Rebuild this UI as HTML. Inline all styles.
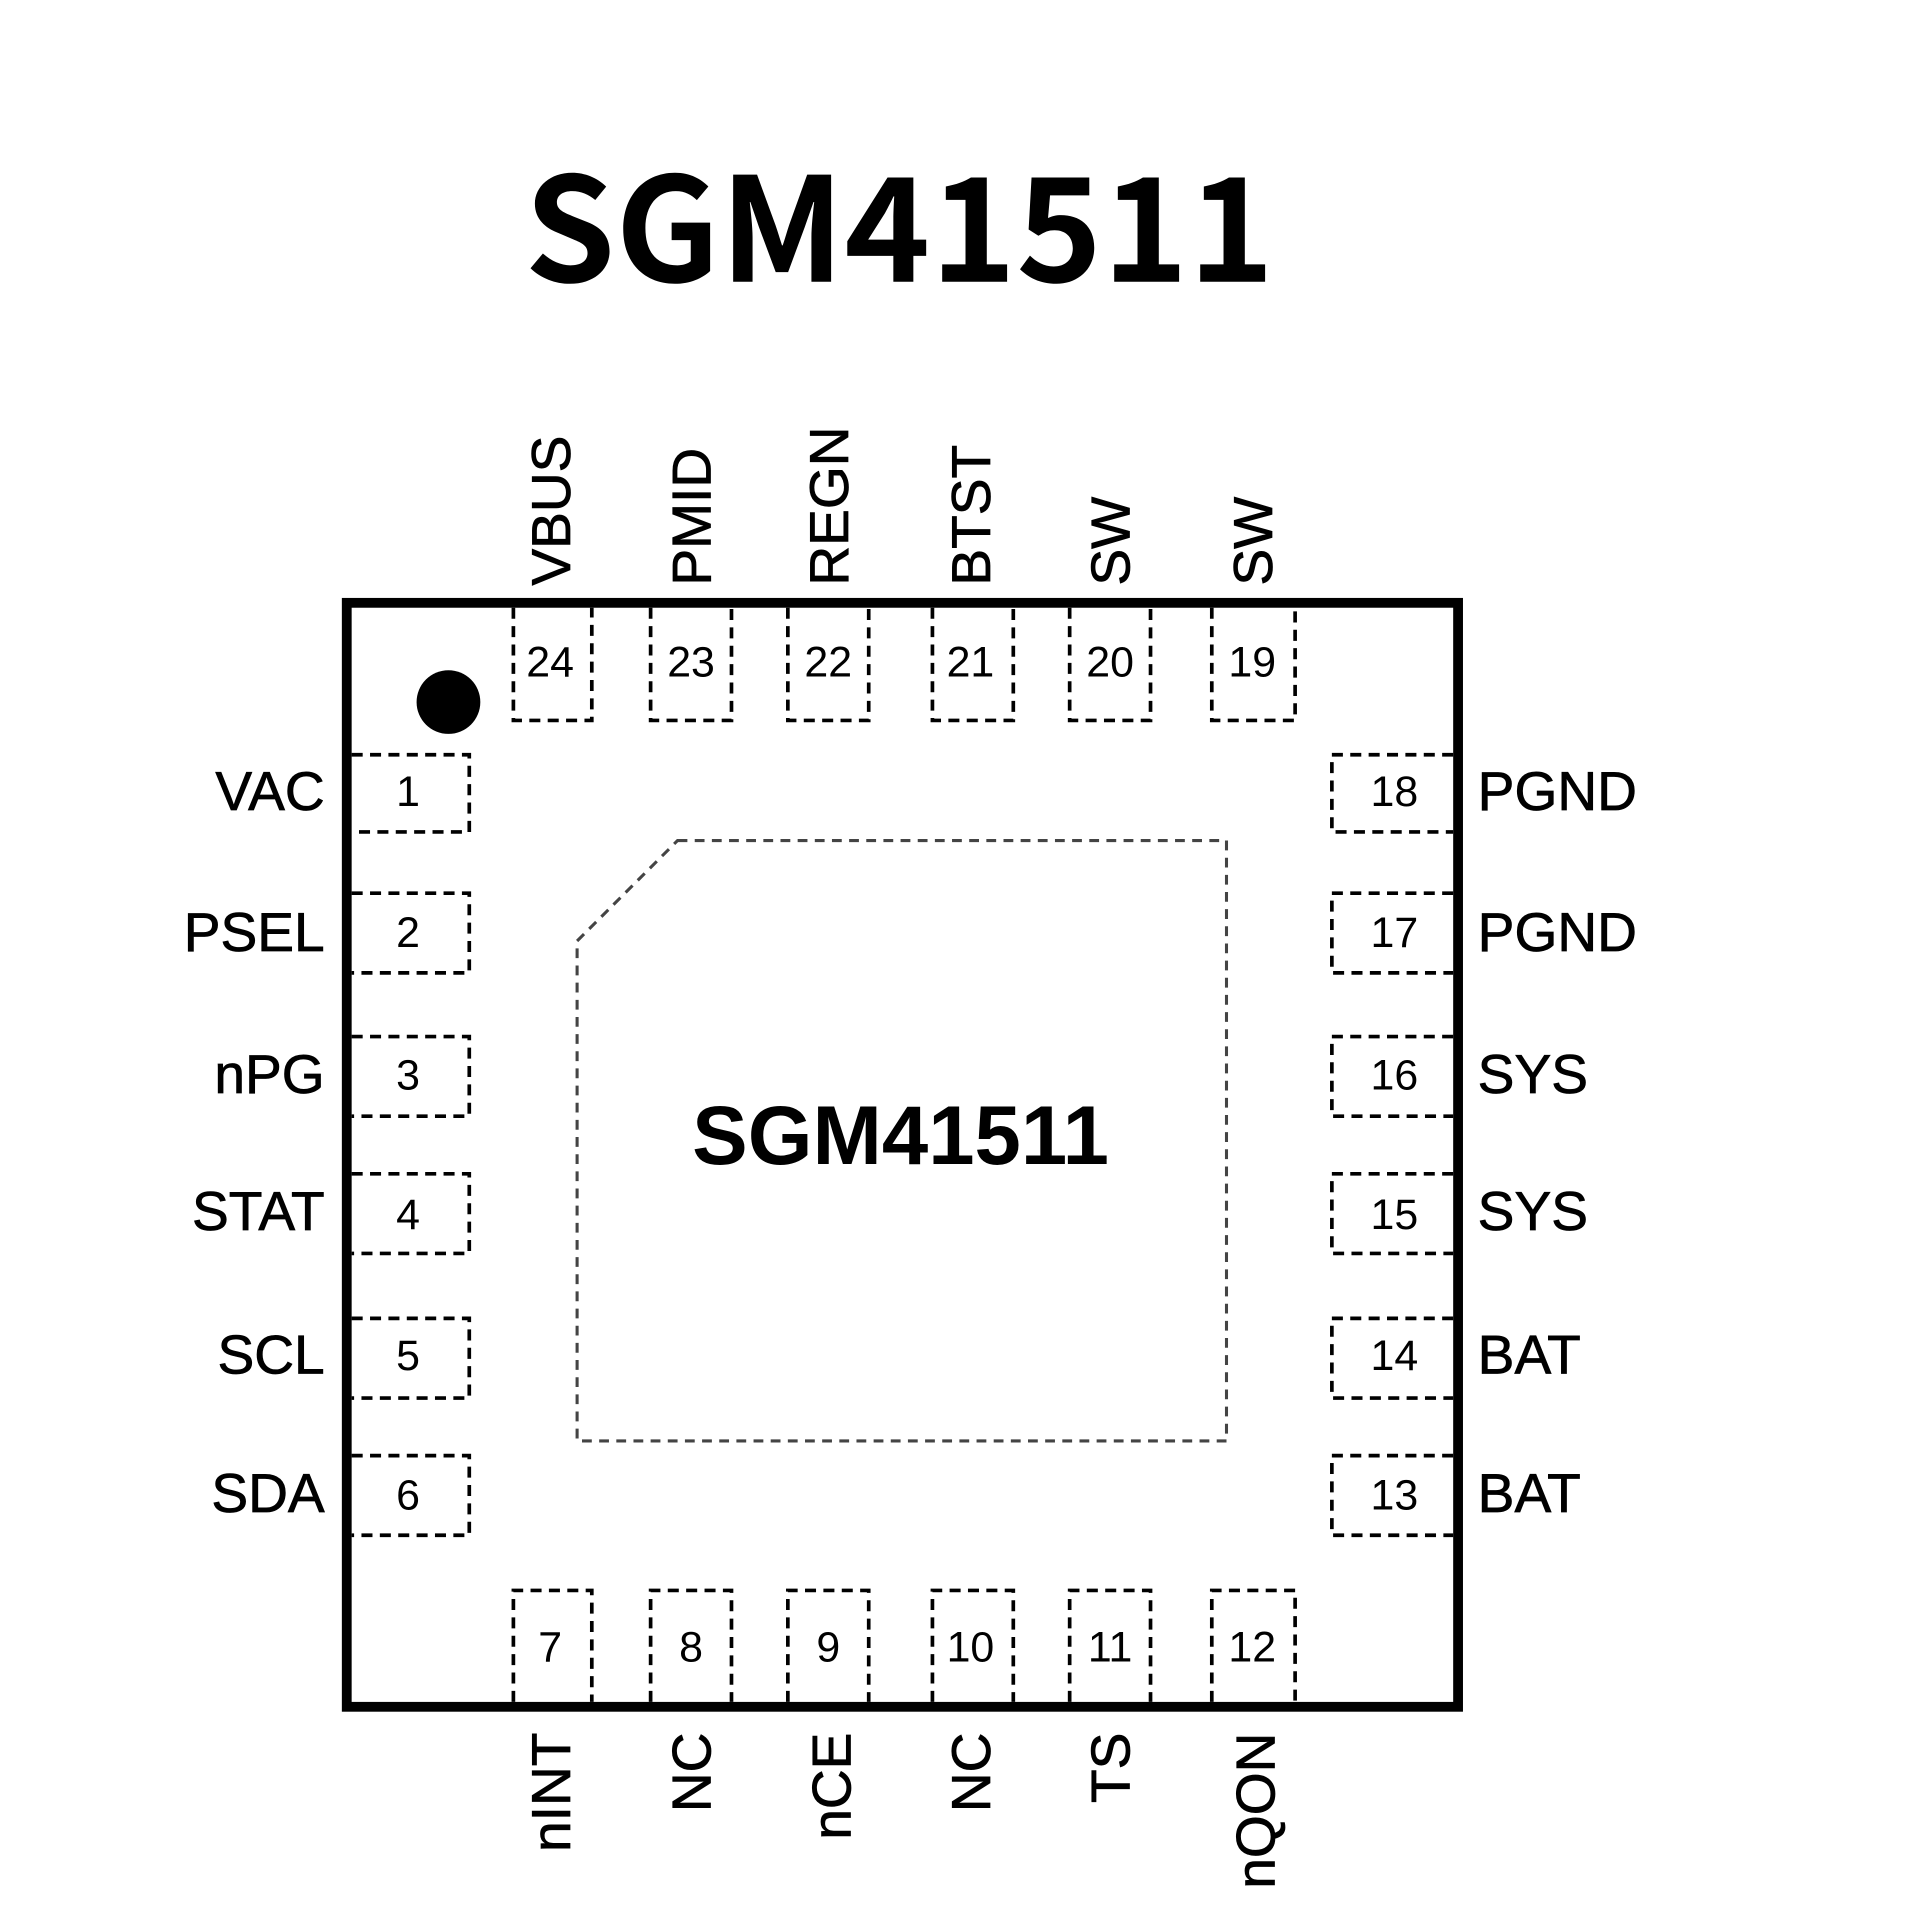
<!DOCTYPE html>
<html><head><meta charset="utf-8"><style>html,body{margin:0;padding:0;background:#fff}svg{display:block}</style></head>
<body>
<svg width="1920" height="1920" viewBox="0 0 1567 1567" xmlns="http://www.w3.org/2000/svg">
<rect width="1567" height="1567" fill="#fff"/>
<text x="428" y="230" font-family="'Noto Sans CJK SC','Liberation Sans',sans-serif" font-weight="bold" font-size="118" textLength="612" lengthAdjust="spacingAndGlyphs">SGM41511</text>
<rect x="283" y="492" width="907" height="901" fill="none" stroke="#000" stroke-width="8"/>
<circle cx="366" cy="573" r="26" fill="#000"/>
<polygon points="553,686 1001,686 1001,1176 471,1176 471,768" fill="none" stroke="#444" stroke-width="2.5" stroke-dasharray="8,6"/>
<text x="735" y="950" text-anchor="middle" font-family="'Liberation Sans',sans-serif" font-weight="bold" font-size="68">SGM41511</text>
<g fill="none" stroke="#000" stroke-width="3" stroke-dasharray="9,6">
<path d="M419,496V588H483V496"/><path d="M531,496V588H597V496"/><path d="M643,496V588H709V496"/>
<path d="M761,496V588H827V496"/><path d="M873,496V588H939V496"/><path d="M989,496V588H1057V496"/>
<path d="M419,1389V1298H483V1389"/><path d="M531,1389V1298H597V1389"/><path d="M643,1389V1298H709V1389"/>
<path d="M761,1389V1298H827V1389"/><path d="M873,1389V1298H939V1389"/><path d="M989,1389V1298H1057V1389"/>
<path d="M287,616H383V679H287"/><path d="M287,729H383V794H287"/><path d="M287,846H383V911H287"/>
<path d="M287,958H383V1023H287"/><path d="M287,1076H383V1141H287"/><path d="M287,1188H383V1253H287"/>
<path d="M1186,616H1087V679H1186"/><path d="M1186,729H1087V794H1186"/><path d="M1186,846H1087V911H1186"/>
<path d="M1186,958H1087V1023H1186"/><path d="M1186,1076H1087V1141H1186"/><path d="M1186,1188H1087V1253H1186"/>
</g>
<g font-family="'Liberation Sans',sans-serif" font-size="35" text-anchor="middle" fill="#000">
<text x="449" y="552">24</text><text x="564" y="552">23</text><text x="676" y="552">22</text>
<text x="792" y="552">21</text><text x="906" y="552">20</text><text x="1022" y="552">19</text>
<text x="449" y="1356">7</text><text x="564" y="1356">8</text><text x="676" y="1356">9</text>
<text x="792" y="1356">10</text><text x="906" y="1356">11</text><text x="1022" y="1356">12</text>
<text x="333" y="658">1</text><text x="333" y="773">2</text><text x="333" y="889">3</text>
<text x="333" y="1003">4</text><text x="333" y="1118">5</text><text x="333" y="1232">6</text>
<text x="1138" y="658">18</text><text x="1138" y="773">17</text><text x="1138" y="889">16</text>
<text x="1138" y="1003">15</text><text x="1138" y="1118">14</text><text x="1138" y="1232">13</text>
</g>
<g font-family="'Liberation Sans',sans-serif" font-size="45" fill="#000" stroke="#000" stroke-width="0.6">
<g text-anchor="end">
<text x="265" y="661">VAC</text><text x="265" y="776">PSEL</text><text x="265" y="892">nPG</text>
<text x="265" y="1004">STAT</text><text x="265" y="1121">SCL</text><text x="265" y="1234">SDA</text>
</g>
<text x="1206" y="661">PGND</text><text x="1206" y="776">PGND</text><text x="1206" y="892">SYS</text>
<text x="1206" y="1004">SYS</text><text x="1206" y="1121">BAT</text><text x="1206" y="1234">BAT</text>
<text transform="translate(465,478) rotate(-90)">VBUS</text>
<text transform="translate(580,478) rotate(-90)">PMID</text>
<text transform="translate(692,478) rotate(-90)">REGN</text>
<text transform="translate(808,478) rotate(-90)">BTST</text>
<text transform="translate(922,478) rotate(-90)">SW</text>
<text transform="translate(1038,478) rotate(-90)">SW</text>
<g text-anchor="end">
<text transform="translate(465,1414) rotate(-90)">nINT</text>
<text transform="translate(580,1414) rotate(-90)">NC</text>
<text transform="translate(694,1414) rotate(-90)">nCE</text>
<text transform="translate(808,1414) rotate(-90)">NC</text>
<text transform="translate(922,1414) rotate(-90)">TS</text>
<text transform="translate(1040,1414) rotate(-90)">nQON</text>
</g>
</g>
</svg>
</body></html>
